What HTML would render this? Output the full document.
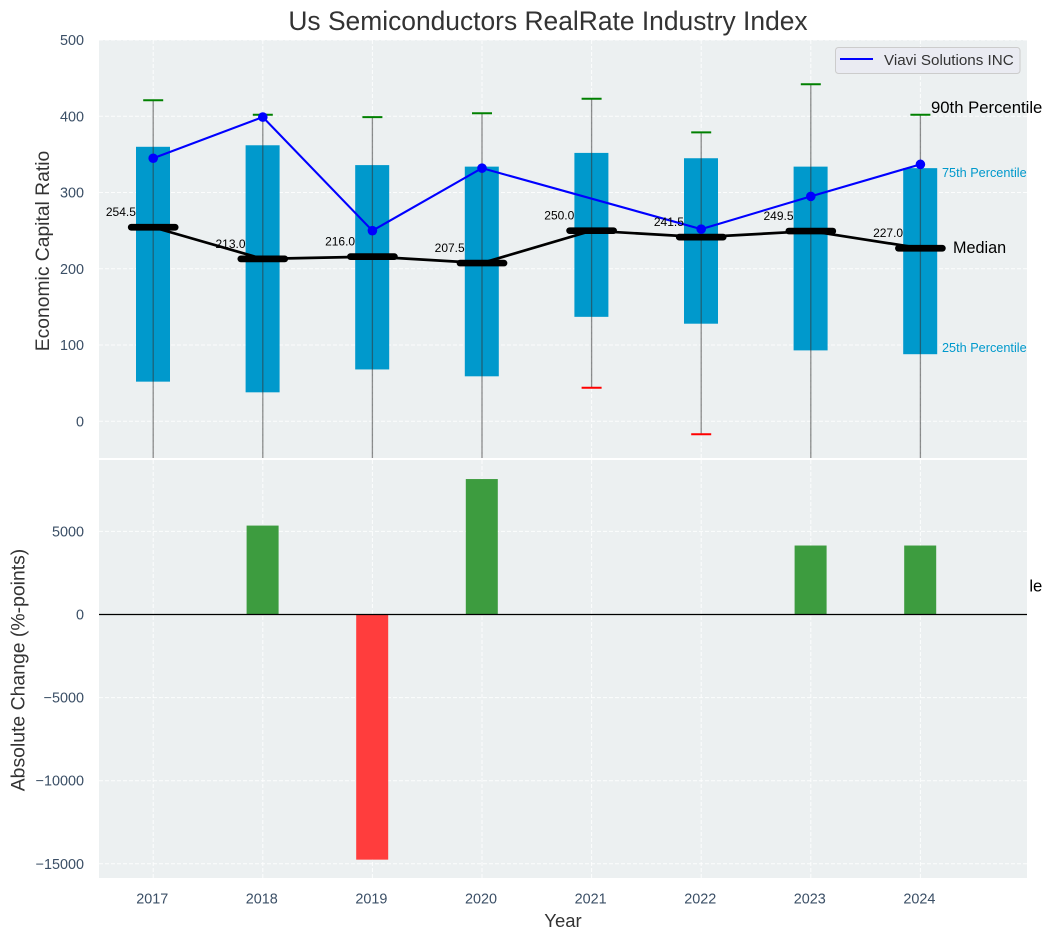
<!DOCTYPE html>
<html>
<head>
<meta charset="utf-8">
<title>Us Semiconductors RealRate Industry Index</title>
<style>
html,body{margin:0;padding:0;background:#fff;}
svg{display:block;font-family:"Liberation Sans",Arial,sans-serif;}
text{white-space:pre;}
</style>
</head>
<body>
<svg id="chart" xmlns="http://www.w3.org/2000/svg" width="1051" height="940" viewBox="0 0 1051 940">
  <defs>
    <clipPath id="clip-top"><rect x="99" y="40" width="928" height="418"></rect></clipPath>
    <clipPath id="clip-bottom"><rect x="99" y="460" width="928" height="418"></rect></clipPath>
    <clipPath id="clip-overflow"><rect x="1029" y="460" width="22" height="418"></rect></clipPath>
  </defs>
  <text x="548" y="30" text-anchor="middle" font-size="26.4" fill="#333333">Us Semiconductors RealRate Industry Index</text>
  <rect x="99" y="40" width="928" height="418" fill="#ecf0f1"></rect>
  <g id="top-grid"></g>
  <g id="top-marks" clip-path="url(#clip-top)"></g>
  <g id="top-labels"></g>
  <rect x="99" y="460" width="928" height="418" fill="#ecf0f1"></rect>
  <g id="bottom-grid"></g>
  <g id="bottom-marks" clip-path="url(#clip-bottom)"></g>
  <g id="axis-labels"></g>
  <text transform="translate(49,251) rotate(-90)" text-anchor="middle" font-size="19.3" fill="#333333">Economic Capital Ratio</text>
  <text transform="translate(24.5,670) rotate(-90)" text-anchor="middle" font-size="19.4" fill="#333333">Absolute Change (%-points)</text>
  <text x="563" y="927" text-anchor="middle" font-size="18.5" fill="#333333">Year</text>
  <g>
    <rect x="835.5" y="47.5" width="184.5" height="26" rx="3" fill="#eaeaf2" fill-opacity="0.9" stroke="#cccccc"></rect>
    <line x1="840" y1="59" x2="873" y2="59" stroke="#0000ff" stroke-width="2"></line>
    <text x="884" y="65" font-size="15.2" fill="#333333">Viavi Solutions INC</text>
  </g>
</svg>
<script>
const years = ['2017','2018','2019','2020','2021','2022','2023','2024'];
const p90 = [421,402,399,404,423,379,442,402];
const p75 = [360,362,336,334,352,345,334,332];
const median = [254.5,213,216,207.5,250,241.5,249.5,227];
const p25 = [52,38,68,59,137,128,93,88];
const p10 = [-90,-85,-80,-80,44,-17,-75,-226];
const viavi = [345,399,250,332,null,252,295,337];
const changes = [0,5350,-14750,8150,0,0,4150,4150];
const topTicks = [0,100,200,300,400,500];
const bottomTicks = [-15000,-10000,-5000,0,5000];

const NS = 'http://www.w3.org/2000/svg';
const xPos = i => 153.2 + i * 109.6;
const yTop = v => 421.3 - v * 0.7625;
const yBottom = v => 614.5 - v * 0.01662;

function make(tag, parent, attrs, content) {
  const el = document.createElementNS(NS, tag);
  for (const k in attrs) el.setAttribute(k, attrs[k]);
  if (content !== undefined) el.textContent = content;
  parent.appendChild(el);
  return el;
}
const chart = document.getElementById('chart');
const topGrid = document.getElementById('top-grid');
const topMarks = document.getElementById('top-marks');
const topLabels = document.getElementById('top-labels');
const bottomGrid = document.getElementById('bottom-grid');
const bottomMarks = document.getElementById('bottom-marks');
const axisLabels = document.getElementById('axis-labels');
const gridStyle = {stroke:'#ffffff','stroke-width':1,'stroke-dasharray':'4 2','stroke-opacity':0.85};
const tickColor = '#3b4f66';
let el;

topTicks.forEach(t => {
  el = make('line', topGrid, {x1:99,x2:1027,y1:yTop(t),y2:yTop(t),...gridStyle});
  
  
  el = make('text', axisLabels, {x:84,y:yTop(t)+5,'text-anchor':'end','font-size':14.4,fill:tickColor}, String(t));
  
  
});
bottomTicks.forEach(t => {
  el = make('line', bottomGrid, {x1:99,x2:1027,y1:yBottom(t),y2:yBottom(t),...gridStyle});
  
  
  el = make('text', axisLabels, {x:84,y:yBottom(t)+5,'text-anchor':'end','font-size':14.4,fill:tickColor}, String(t).replace('-', '\u2212'));
  
  
});
years.forEach((y, i) => {
  el = make('line', topGrid, {x1:xPos(i),x2:xPos(i),y1:40,y2:458,...gridStyle});
  
  
  el = make('line', bottomGrid, {x1:xPos(i),x2:xPos(i),y1:460,y2:878,...gridStyle});
  
  
  el = make('text', axisLabels, {x:xPos(i)-1,y:903.5,'text-anchor':'middle','font-size':14.4,fill:tickColor}, y);
  
  
});

years.forEach((y, i) => {
  el = make('rect', topMarks, {x:xPos(i)-17.2,y:yTop(p75[i]),width:34,height:yTop(p25[i])-yTop(p75[i]),fill:'#0099cc'});
  
  
  el = make('line', topMarks, {x1:xPos(i),x2:xPos(i),y1:yTop(p90[i]),y2:yTop(p10[i]),stroke:'#333333','stroke-width':1.3,'stroke-opacity':0.55});
  
  
  el = make('line', topMarks, {x1:xPos(i)-10,x2:xPos(i)+10,y1:yTop(p90[i]),y2:yTop(p90[i]),stroke:'#008000','stroke-width':2});
  
  
  el = make('line', topMarks, {x1:xPos(i)-10,x2:xPos(i)+10,y1:yTop(p10[i]),y2:yTop(p10[i]),stroke:'#ff0000','stroke-width':2});
  
  
});

el = make('polyline', topMarks, {points:median.map((v,i)=>xPos(i)+','+yTop(v)).join(' '),fill:'none',stroke:'#000000','stroke-width':2.7});


years.forEach((y, i) => {
  el = make('line', topMarks, {x1:xPos(i)-22,x2:xPos(i)+22,y1:yTop(median[i]),y2:yTop(median[i]),stroke:'#000000','stroke-width':6.7,'stroke-linecap':'round'});
  
  
});

const viaviPoints = viavi.map((v,i)=>v===null?null:xPos(i)+','+yTop(v)).filter(p=>p!==null).join(' ');
el = make('polyline', topMarks, {points:viaviPoints,fill:'none',stroke:'#0000ff','stroke-width':2.1});


viavi.forEach((v, i) => {
  if (v === null) return;
  el = make('circle', topMarks, {cx:xPos(i),cy:yTop(v),r:4.8,fill:'#0000ff'});
  
  
});

median.forEach((v, i) => {
  el = make('text', topLabels, {x:xPos(i)-17.3,y:yTop(v)-11,'text-anchor':'end','font-size':12,fill:'#000000'}, v.toFixed(1));
  
  
});

const last = years.length - 1;
el = make('text', topLabels, {x:931,y:yTop(p90[last])-2,'font-size':16.7,fill:'#000000'}, '90th Percentile');


el = make('text', topLabels, {x:942,y:yTop(p75[last])+9,'font-size':12.7,fill:'#0099cc'}, '75th Percentile');


el = make('text', topLabels, {x:953,y:yTop(median[last])+5,'font-size':16.2,fill:'#000000'}, 'Median');


el = make('text', topLabels, {x:942,y:yTop(p25[last])-2,'font-size':12.7,fill:'#0099cc'}, '25th Percentile');


el = make('text', chart, {x:931,y:yTop(p10[last])-2,'font-size':16.7,fill:'#000000','clip-path':'url(#clip-overflow)'}, '10th Percentile');



changes.forEach((v, i) => {
  if (v === 0) return;
  const y0 = Math.min(yBottom(v), yBottom(0));
  const h = Math.abs(yBottom(v) - yBottom(0));
  const color = v > 0 ? '#3d9c3f' : '#ff3d3d';
  el = make('rect', bottomMarks, {x:xPos(i)-16.2,y:y0,width:32,height:h,fill:color});
  
  
});
el = make('line', bottomMarks, {x1:99,x2:1027,y1:yBottom(0),y2:yBottom(0),stroke:'#000000','stroke-width':1.2});


</script>
</body>
</html>
